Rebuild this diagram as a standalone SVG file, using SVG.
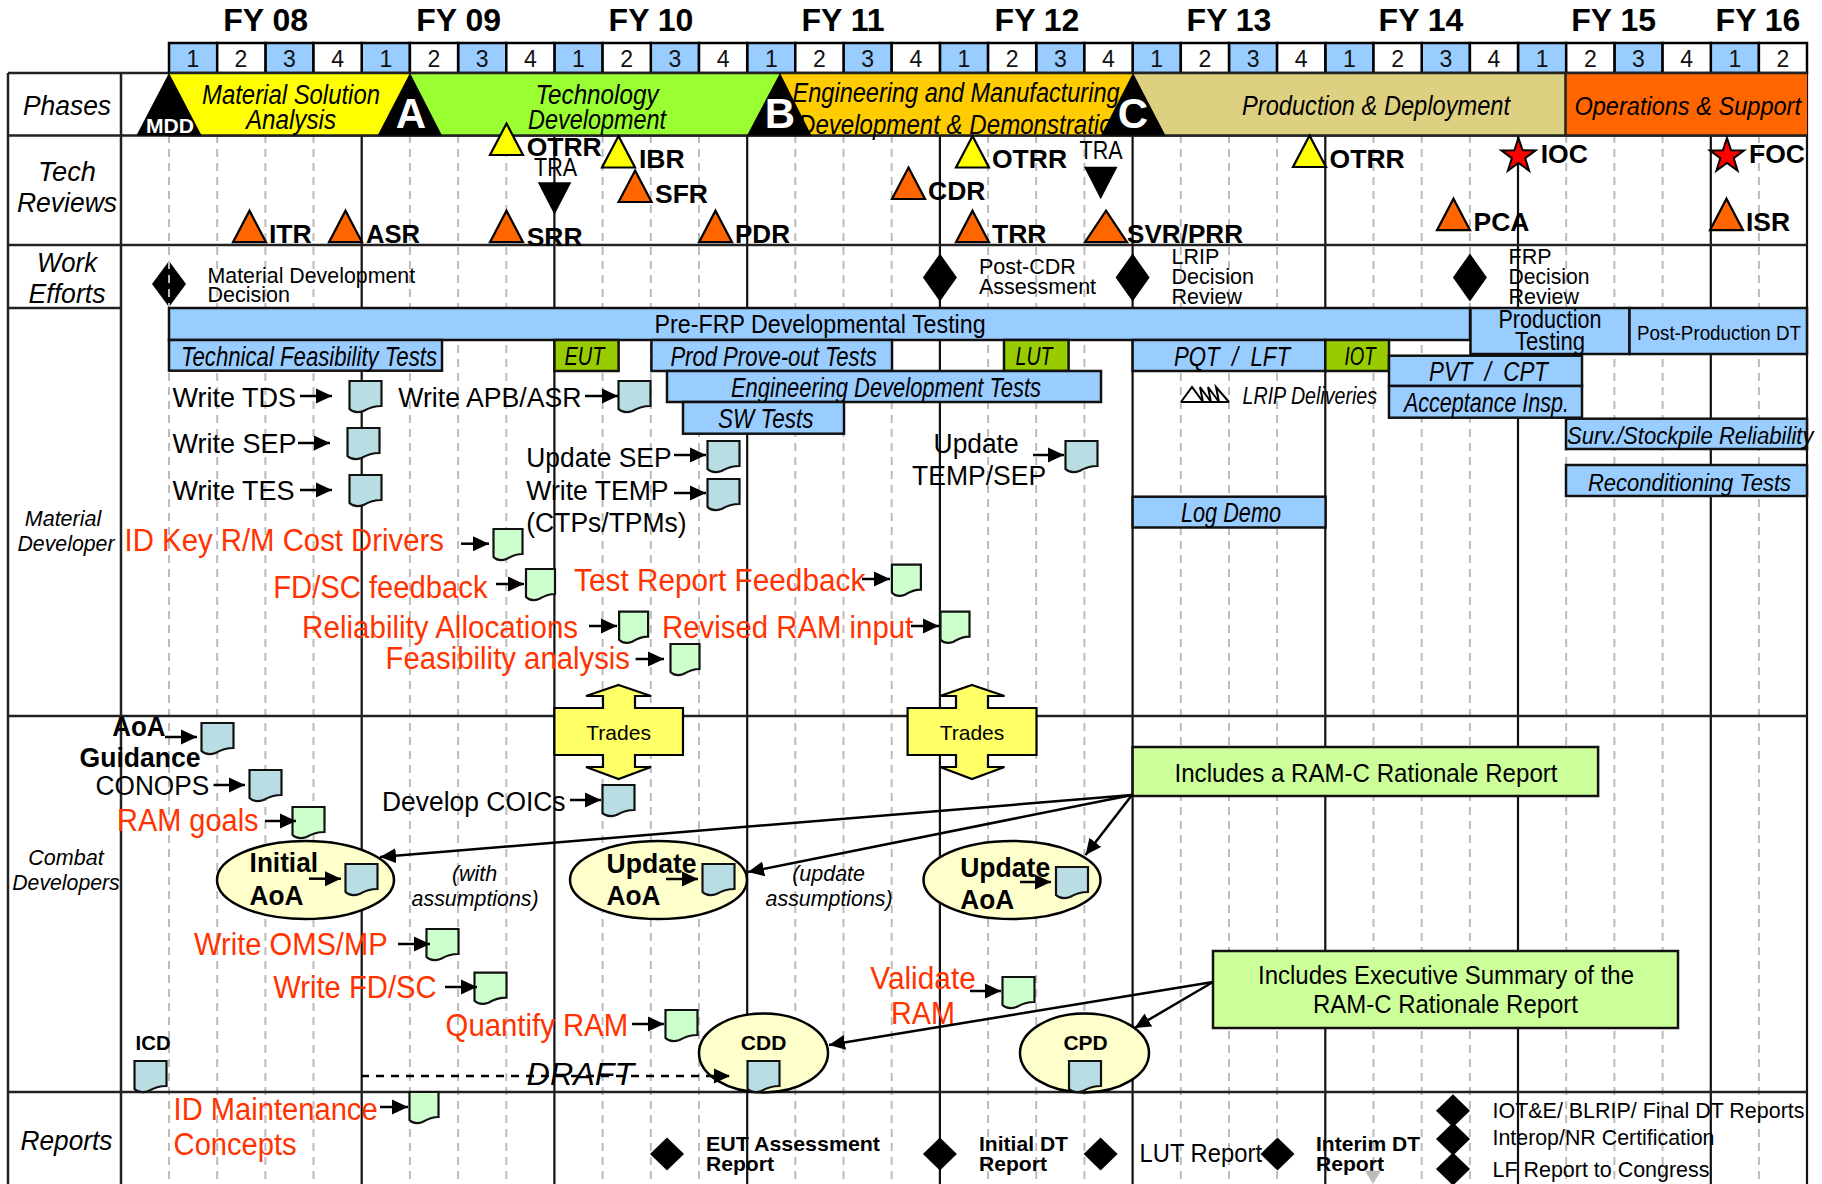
<svg xmlns="http://www.w3.org/2000/svg" width="1822" height="1184" viewBox="0 0 1822 1184">
<style>
text{font-family:"Liberation Sans",Arial,sans-serif;fill:#000}
.fy{font-size:32px;font-weight:bold;text-anchor:middle}
.q{font-size:23px;text-anchor:middle;fill:#111}
.cell{stroke:#000;stroke-width:2.5}
.row{stroke:#222;stroke-width:2.5;fill:none}
.sol{stroke:#111;stroke-width:2.2;fill:none}
.das{stroke:#bbb;stroke-width:2;stroke-dasharray:8 6;fill:none}
.lab{font-size:27px;font-style:italic;text-anchor:middle}
.lab2{font-size:21.5px;font-style:italic;text-anchor:middle}
.ph{font-size:27px;font-style:italic}
.rev{font-size:26.5px;font-weight:bold}
.tra{font-size:25px}
.or{fill:#FF6600;stroke:#000;stroke-width:2.2}
.ye{fill:#FFFF00;stroke:#000;stroke-width:2.2}
.dia{fill:#000}
.note{font-size:21.5px}
.bar{fill:#99CCFF;stroke:#111;stroke-width:2.5}
.gbar{fill:#99CC00;stroke:#111;stroke-width:2.5}
.bt{font-size:27px;font-style:italic}
.n{font-size:27px}
.red{font-size:31px;fill:#FF3300}
.b{font-size:27px;font-weight:bold}
.b2{font-size:21px;font-weight:bold}
.ell{fill:#FFFFCC;stroke:#000;stroke-width:2.5}
.tr{fill:#FFFF66;stroke:#000;stroke-width:2.2}
.gn{fill:#CCFF99;stroke:#111;stroke-width:2.5}
.arr{stroke:#000;stroke-width:2.5;fill:none;marker-end:url(#ah)}
.long{stroke:#000;stroke-width:2.5;fill:none;marker-end:url(#ah)}
.wh{fill:#fff;font-weight:bold}
</style>
<defs>
<marker id="ah" markerUnits="userSpaceOnUse" markerWidth="17" markerHeight="16" refX="16" refY="8" orient="auto"><path d="M0,0.5 L16,8 L0,15.5Z" fill="#000"/></marker>
<path id="db" d="M1,1 H33 V26 C26,26 20,28 15,31 C9,33 4,32 1,29 Z" fill="#B8DDE2" stroke="#111" stroke-width="2.2"/>
<path id="dg" d="M1,1 H30 V26 C24,26 19,28 14,31 C9,33 4,32 1,29 Z" fill="#CCFFCC" stroke="#111" stroke-width="2.2"/>
<path id="dh" d="M1,1 H33 V26 C26,26 20,28 15,31 C9,33 4,32 1,29 Z" fill="#CCFFCC" stroke="#111" stroke-width="2.2"/>
<polygon id="tri" points="16.5,0 33,31.5 0,31.5"/>
<polygon id="inv" points="0,0 33.5,0 16.7,32.5" fill="#000"/>
<polygon id="star" points="0,-18 4.1,-5.7 17.1,-5.6 6.7,2.2 10.6,14.6 0,7 -10.6,14.6 -6.7,2.2 -17.1,-5.6 -4.1,-5.7" fill="#FF0000" stroke="#000" stroke-width="2"/>
<polygon id="dm" points="0,-24 17,0 0,24 -17,0" fill="#000"/>
<polygon id="ds" points="0,-16.5 17,0 0,16.5 -17,0" fill="#000"/>
</defs>

<g id="grid">
<path class="das" d="M169,135V1184M217.2,135V1184M265.4,135V1184M313.5,135V1184M409.9,135V1184M458.1,135V1184M506.3,135V1184M602.6,135V1184M650.8,135V1184M699,135V1184M795.3,135V1184M843.5,135V1184M891.7,135V1184M988.1,135V1184M1036.2,135V1184M1084.4,135V1184M1180.8,135V1184M1229,135V1184M1277.1,135V1184M1373.5,135V1184M1421.7,135V1184M1469.9,135V1184M1566.2,135V1184M1614.4,135V1184M1662.6,135V1184M1758.9,135V1184"/>
<path class="sol" d="M361.7,135V1184M554.4,135V1184M747.2,135V1184M939.9,135V1184M1132.6,135V1184M1325.3,135V1184M1518,135V1184M1710.8,135V1184M1807,73V1184"/>
<path class="row" d="M8,73H169M8,135.5H1807M8,245H1807M8,308H121M8,716H1807M8,1092H1807M8,73V1184M121,73V1184"/>
</g>

<g id="years">
<text class="fy" x="265.7" y="30.7">FY 08</text><text class="fy" x="458.7" y="30.7">FY 09</text><text class="fy" x="651" y="30.7">FY 10</text><text class="fy" x="843" y="30.7">FY 11</text><text class="fy" x="1037" y="30.7">FY 12</text><text class="fy" x="1229" y="30.7">FY 13</text><text class="fy" x="1421" y="30.7">FY 14</text><text class="fy" x="1613.6" y="30.7">FY 15</text><text class="fy" x="1758" y="30.7">FY 16</text>
</g>
<g id="quarters">
<g class="cell" fill="#99CCFF">
<rect x="169" y="43" width="48.2" height="30"/><rect x="265.4" y="43" width="48.1" height="30"/><rect x="361.7" y="43" width="48.2" height="30"/><rect x="458.1" y="43" width="48.2" height="30"/><rect x="554.4" y="43" width="48.2" height="30"/><rect x="650.8" y="43" width="48.2" height="30"/><rect x="747.2" y="43" width="48.1" height="30"/><rect x="843.5" y="43" width="48.2" height="30"/><rect x="939.9" y="43" width="48.2" height="30"/><rect x="1036.2" y="43" width="48.2" height="30"/><rect x="1132.6" y="43" width="48.2" height="30"/><rect x="1229" y="43" width="48.1" height="30"/><rect x="1325.3" y="43" width="48.2" height="30"/><rect x="1421.7" y="43" width="48.2" height="30"/><rect x="1518" y="43" width="48.2" height="30"/><rect x="1614.4" y="43" width="48.2" height="30"/><rect x="1710.8" y="43" width="48.1" height="30"/>
</g>
<g class="cell" fill="#fff">
<rect x="217.2" y="43" width="48.2" height="30"/><rect x="313.5" y="43" width="48.2" height="30"/><rect x="409.9" y="43" width="48.2" height="30"/><rect x="506.3" y="43" width="48.1" height="30"/><rect x="602.6" y="43" width="48.2" height="30"/><rect x="699" y="43" width="48.2" height="30"/><rect x="795.3" y="43" width="48.2" height="30"/><rect x="891.7" y="43" width="48.2" height="30"/><rect x="988.1" y="43" width="48.1" height="30"/><rect x="1084.4" y="43" width="48.2" height="30"/><rect x="1180.8" y="43" width="48.2" height="30"/><rect x="1277.1" y="43" width="48.2" height="30"/><rect x="1373.5" y="43" width="48.2" height="30"/><rect x="1469.9" y="43" width="48.1" height="30"/><rect x="1566.2" y="43" width="48.2" height="30"/><rect x="1662.6" y="43" width="48.2" height="30"/><rect x="1758.9" y="43" width="48.1" height="30"/>
</g>
<g>
<text class="q" x="193" y="66.8">1</text><text class="q" x="241" y="66.8">2</text><text class="q" x="289.5" y="66.8">3</text><text class="q" x="337.6" y="66.8">4</text><text class="q" x="385.8" y="66.8">1</text><text class="q" x="434" y="66.8">2</text><text class="q" x="482.2" y="66.8">3</text><text class="q" x="530.4" y="66.8">4</text><text class="q" x="578.5" y="66.8">1</text><text class="q" x="626.7" y="66.8">2</text><text class="q" x="674.9" y="66.8">3</text><text class="q" x="723.1" y="66.8">4</text><text class="q" x="771.3" y="66.8">1</text><text class="q" x="819.4" y="66.8">2</text><text class="q" x="867.6" y="66.8">3</text><text class="q" x="915.8" y="66.8">4</text><text class="q" x="964" y="66.8">1</text><text class="q" x="1012.2" y="66.8">2</text><text class="q" x="1060.3" y="66.8">3</text><text class="q" x="1108.5" y="66.8">4</text><text class="q" x="1156.7" y="66.8">1</text><text class="q" x="1204.9" y="66.8">2</text><text class="q" x="1253.1" y="66.8">3</text><text class="q" x="1301.2" y="66.8">4</text><text class="q" x="1349.4" y="66.8">1</text><text class="q" x="1397.6" y="66.8">2</text><text class="q" x="1445.8" y="66.8">3</text><text class="q" x="1494" y="66.8">4</text><text class="q" x="1542.1" y="66.8">1</text><text class="q" x="1590.3" y="66.8">2</text><text class="q" x="1638.5" y="66.8">3</text><text class="q" x="1686.7" y="66.8">4</text><text class="q" x="1734.9" y="66.8">1</text><text class="q" x="1783" y="66.8">2</text>
</g>
</g>

<g id="row-labels">
<text class="lab" x="67" y="115" textLength="88" lengthAdjust="spacingAndGlyphs">Phases</text>
<text class="lab" x="67" y="181" textLength="58" lengthAdjust="spacingAndGlyphs">Tech</text><text class="lab" x="67" y="212" textLength="100" lengthAdjust="spacingAndGlyphs">Reviews</text>
<text class="lab" x="67" y="272" textLength="60" lengthAdjust="spacingAndGlyphs">Work</text><text class="lab" x="67" y="303" textLength="77" lengthAdjust="spacingAndGlyphs">Efforts</text>
<text class="lab2" x="63" y="526">Material</text><text class="lab2" x="66" y="551" textLength="97" lengthAdjust="spacingAndGlyphs">Developer</text>
<text class="lab2" x="66" y="865">Combat</text><text class="lab2" x="66" y="890" textLength="107.5" lengthAdjust="spacingAndGlyphs">Developers</text>
<text class="lab" x="66.5" y="1150" textLength="92" lengthAdjust="spacingAndGlyphs">Reports</text>
</g>

<g id="phases">
<rect x="169" y="73" width="241" height="62.5" fill="#FFFF00"/>
<rect x="410" y="73" width="370" height="62.5" fill="#99FF33"/>
<rect x="780" y="73" width="353" height="62.5" fill="#FFCC00"/>
<rect x="1133" y="73" width="432" height="62.5" fill="#DDD080"/>
<rect x="1565" y="73" width="242" height="62.5" fill="#FF6600"/>
<path class="row" d="M169,73H1807M169,135.5H1807M1565.5,73V135.5"/>
<text class="ph" x="291" y="104" text-anchor="middle" textLength="178" lengthAdjust="spacingAndGlyphs">Material Solution</text>
<text class="ph" x="291" y="128.7" text-anchor="middle" textLength="90" lengthAdjust="spacingAndGlyphs">Analysis</text>
<text class="ph" x="597" y="104" text-anchor="middle" textLength="123" lengthAdjust="spacingAndGlyphs">Technology</text>
<text class="ph" x="597" y="128.7" text-anchor="middle" textLength="138" lengthAdjust="spacingAndGlyphs">Development</text>
<text class="ph" x="792.6" y="101.7" textLength="327" lengthAdjust="spacingAndGlyphs">Engineering and Manufacturing</text>
<text class="ph" x="798" y="134" textLength="328" lengthAdjust="spacingAndGlyphs">Development &amp; Demonstration</text>
<text class="ph" x="1376" y="115" text-anchor="middle" textLength="268" lengthAdjust="spacingAndGlyphs">Production &amp; Deployment</text>
<text class="ph" x="1574.4" y="115" textLength="226.6" lengthAdjust="spacingAndGlyphs" style="font-size:25px">Operations &amp; Support</text>
<polygon points="169,73 201.6,135.5 136.4,135.5" fill="#000"/>
<polygon points="410,73 442,135.5 377.6,135.5" fill="#000"/>
<polygon points="780,73 811.5,135.5 747,135.5" fill="#000"/>
<polygon points="1133,73 1165.5,135.5 1101,135.5" fill="#000"/>
<text class="wh" x="170" y="133" font-size="20" text-anchor="middle" textLength="48" lengthAdjust="spacingAndGlyphs">MDD</text>
<text class="wh" x="411" y="128" font-size="42" text-anchor="middle">A</text>
<text class="wh" x="780" y="128" font-size="42" text-anchor="middle">B</text>
<text class="wh" x="1133" y="128" font-size="42" text-anchor="middle">C</text>
</g>

<g id="tech-reviews">
<g id="itr"><use href="#tri" class="or" x="233" y="210.7"/><text class="rev" x="269" y="242.5">ITR</text></g>
<g id="asr"><use href="#tri" class="or" x="329" y="210.7"/><text class="rev" x="366" y="242.5" textLength="54" lengthAdjust="spacingAndGlyphs">ASR</text></g>
<g id="srr"><use href="#tri" class="or" x="490" y="210.7"/><text class="rev" x="526.7" y="246">SRR</text></g>
<g id="otrr1"><use href="#tri" class="ye" x="490" y="123.5"/><text class="rev" x="526.7" y="155.5">OTRR</text></g>
<g id="tra1"><text class="tra" x="534" y="175.7" textLength="43" lengthAdjust="spacingAndGlyphs">TRA</text><use href="#inv" x="537.8" y="182.3"/></g>
<g id="ibr"><use href="#tri" class="ye" x="602" y="136"/><text class="rev" x="639" y="167.5">IBR</text></g>
<g id="sfr"><use href="#tri" class="or" x="618.6" y="170.5"/><text class="rev" x="655" y="202.5">SFR</text></g>
<g id="pdr"><use href="#tri" class="or" x="699" y="210.7"/><text class="rev" x="735" y="242.5" textLength="55" lengthAdjust="spacingAndGlyphs">PDR</text></g>
<g id="cdr"><use href="#tri" class="or" x="892" y="167.5"/><text class="rev" x="928" y="199.5">CDR</text></g>
<g id="otrr2"><use href="#tri" class="ye" x="956" y="136"/><text class="rev" x="992" y="167.5">OTRR</text></g>
<g id="trr"><use href="#tri" class="or" x="956" y="210.7"/><text class="rev" x="992" y="242.5">TRR</text></g>
<g id="tra2"><text class="tra" x="1079.6" y="159" textLength="43" lengthAdjust="spacingAndGlyphs">TRA</text><use href="#inv" x="1084" y="166.7"/></g>
<g id="svr"><polygon class="or" points="1106,210.7 1127,242.2 1085,242.2"/><text class="rev" x="1127" y="242.5" textLength="116" lengthAdjust="spacingAndGlyphs">SVR/PRR</text></g>
<g id="otrr3"><use href="#tri" class="ye" x="1293" y="135.5"/><text class="rev" x="1329.6" y="167.5">OTRR</text></g>
<g id="ioc"><use href="#star" x="1518.5" y="156"/><text class="rev" x="1540.7" y="162.8">IOC</text></g>
<g id="foc"><use href="#star" x="1727" y="156"/><text class="rev" x="1749" y="162.8">FOC</text></g>
<g id="pca"><use href="#tri" class="or" x="1437" y="198.7"/><text class="rev" x="1473.5" y="230.5">PCA</text></g>
<g id="isr"><use href="#tri" class="or" x="1710" y="198.7"/><text class="rev" x="1746" y="230.5" textLength="44" lengthAdjust="spacingAndGlyphs">ISR</text></g>
</g>

<g id="work-efforts">
<g id="mdd-d"><polygon class="dia" points="169,261 186,284 169,307 152,284"/><path class="das" d="M169,261V307"/><text class="note" x="207.5" y="282.7" textLength="207.6" lengthAdjust="spacingAndGlyphs">Material Development</text><text class="note" x="207.5" y="301.7">Decision</text></g>
<g id="postcdr"><use href="#dm" x="939.9" y="277.5"/><text class="note" x="979" y="274">Post-CDR</text><text class="note" x="979" y="294.3">Assessment</text></g>
<g id="lrip"><use href="#dm" x="1132.6" y="277.5"/><text class="note" x="1171.5" y="264">LRIP</text><text class="note" x="1171.5" y="284">Decision</text><text class="note" x="1171.5" y="304">Review</text></g>
<g id="frp"><use href="#dm" x="1469.9" y="277.5"/><text class="note" x="1508.5" y="264">FRP</text><text class="note" x="1508.5" y="284" textLength="81" lengthAdjust="spacingAndGlyphs">Decision</text><text class="note" x="1508.5" y="304">Review</text></g>
</g>

<g id="test-bars">
<g id="prefrp"><rect class="bar" x="169" y="308" width="1301" height="32"/><text x="654.6" y="333" font-size="25" textLength="331" lengthAdjust="spacingAndGlyphs">Pre-FRP Developmental Testing</text></g>
<g id="prodtest"><rect class="bar" x="1470.5" y="308" width="159" height="46"/><text x="1550" y="327.7" font-size="25" text-anchor="middle" textLength="103" lengthAdjust="spacingAndGlyphs">Production</text><text x="1550" y="350" font-size="25" text-anchor="middle" textLength="70" lengthAdjust="spacingAndGlyphs">Testing</text></g>
<g id="postprod"><rect class="bar" x="1629.5" y="308" width="177.5" height="46"/><text x="1637" y="340" font-size="21" textLength="164" lengthAdjust="spacingAndGlyphs">Post-Production DT</text></g>
<g id="tft"><rect class="bar" x="169" y="340" width="273" height="30.7"/><text class="bt" x="181" y="366" textLength="256" lengthAdjust="spacingAndGlyphs">Technical Feasibility Tests</text></g>
<g id="eut"><rect class="gbar" x="554.4" y="340" width="64.2" height="31"/><text class="bt" x="584.4" y="365" text-anchor="middle" textLength="40" lengthAdjust="spacingAndGlyphs" style="font-size:25px">EUT</text></g>
<g id="ppo"><rect class="bar" x="651.4" y="340" width="240.6" height="31"/><text class="bt" x="670.4" y="366" textLength="206.4" lengthAdjust="spacingAndGlyphs">Prod Prove-out Tests</text></g>
<g id="lut"><rect class="gbar" x="1004" y="340" width="64.6" height="31"/><text class="bt" x="1034" y="365" text-anchor="middle" textLength="37" lengthAdjust="spacingAndGlyphs" style="font-size:25px">LUT</text></g>
<g id="pqt"><rect class="bar" x="1132.6" y="340" width="192.7" height="31"/><text class="bt" x="1174" y="366" textLength="116" lengthAdjust="spacingAndGlyphs" xml:space="preserve">PQT  /  LFT</text></g>
<g id="iot"><rect class="gbar" x="1325.3" y="340" width="63.7" height="31"/><text class="bt" x="1360" y="365" text-anchor="middle" textLength="31" lengthAdjust="spacingAndGlyphs" style="font-size:25px">IOT</text></g>
<g id="edt"><rect class="bar" x="667" y="371" width="434" height="31"/><text class="bt" x="731" y="396.5" textLength="310" lengthAdjust="spacingAndGlyphs">Engineering Development Tests</text></g>
<g id="sw"><rect class="bar" x="683" y="402" width="161" height="31.7"/><text class="bt" x="718" y="428" textLength="95.5" lengthAdjust="spacingAndGlyphs">SW Tests</text></g>
<g id="pvt"><rect class="bar" x="1389" y="355.7" width="193" height="30.3"/><text class="bt" x="1429" y="380.7" textLength="119" lengthAdjust="spacingAndGlyphs" xml:space="preserve">PVT  /  CPT</text></g>
<g id="acc"><rect class="bar" x="1389" y="386" width="193" height="31.7"/><text class="bt" x="1404" y="411.7" textLength="165" lengthAdjust="spacingAndGlyphs">Acceptance Insp.</text></g>
<g id="surv"><rect class="bar" x="1566" y="418.7" width="241" height="30.3"/><text class="bt" x="1567" y="443.5" textLength="246.5" lengthAdjust="spacingAndGlyphs" style="font-size:23.5px">Surv./Stockpile Reliability</text></g>
<g id="recon"><rect class="bar" x="1566" y="465" width="241" height="31"/><text class="bt" x="1588" y="490.5" textLength="203" lengthAdjust="spacingAndGlyphs" style="font-size:24px">Reconditioning Tests</text></g>
<g id="logdemo"><rect class="bar" x="1132.6" y="496.7" width="193" height="30.8"/><text class="bt" x="1181" y="522" textLength="100" lengthAdjust="spacingAndGlyphs">Log Demo</text></g>
<g id="lripdel"><path d="M1181,402 L1192,387 L1203,402 L1200,387 L1211,402 L1208,387 L1219,402 L1216,387 L1229,402 M1181,402H1229" fill="none" stroke="#000" stroke-width="2"/><text class="bt" x="1242.6" y="404" textLength="134.4" lengthAdjust="spacingAndGlyphs" style="font-size:23px">LRIP Deliveries</text></g>
</g>

<g id="trades1"><polygon class="tr" points="618.6,685 651,696 635,696 635,708 683,708 683,755 635,755 635,767 651,767 618.6,779 586,767 603,767 603,755 554.4,755 554.4,708 603,708 603,696 586,696"/><text x="618.6" y="740" font-size="21" text-anchor="middle">Trades</text></g>
<g id="trades2"><polygon class="tr" points="972,685 1004.5,696 988,696 988,708 1036.5,708 1036.5,755 988,755 988,767 1004.5,767 972,779 940,767 956,767 956,755 907.6,755 907.6,708 956,708 956,696 940,696"/><text x="972" y="740" font-size="21" text-anchor="middle">Trades</text></g>

<g id="ellipses">
<ellipse id="e-initial" class="ell" cx="305.5" cy="880" rx="88.5" ry="39"/>
<ellipse id="e-update1" class="ell" cx="658.5" cy="880" rx="88.5" ry="39"/>
<ellipse id="e-update2" class="ell" cx="1012" cy="880" rx="88.5" ry="39"/>
<ellipse id="e-cdd" class="ell" cx="763.5" cy="1053" rx="64.5" ry="39.5"/>
<ellipse id="e-cpd" class="ell" cx="1084.5" cy="1053" rx="64.5" ry="39.5"/>
</g>

<g id="notes">
<g id="note1"><rect class="gn" x="1132.6" y="747" width="465.5" height="49"/><text x="1366" y="782" font-size="25" text-anchor="middle" textLength="383" lengthAdjust="spacingAndGlyphs">Includes a RAM-C Rationale Report</text></g>
<g id="note2"><rect class="gn" x="1213" y="951" width="465" height="77"/><text x="1446" y="984" font-size="25" text-anchor="middle" textLength="376" lengthAdjust="spacingAndGlyphs">Includes Executive Summary of the</text><text x="1445.5" y="1013" font-size="25" text-anchor="middle" textLength="265" lengthAdjust="spacingAndGlyphs">RAM-C Rationale Report</text></g>
</g>

<g id="labels" transform="translate(-0.4,0.8)">
<text class="n" x="173" y="406">Write TDS</text>
<text class="n" x="173" y="452.7">Write SEP</text>
<text class="n" x="173" y="499">Write TES</text>
<text class="n" x="398.6" y="406" textLength="183.4" lengthAdjust="spacingAndGlyphs">Write APB/ASR</text>
<text class="n" x="526.7" y="466" textLength="145.3" lengthAdjust="spacingAndGlyphs">Update SEP</text>
<text class="n" x="526.7" y="499.3" textLength="142.3" lengthAdjust="spacingAndGlyphs">Write TEMP</text>
<text class="n" x="526.7" y="531.7" textLength="160.3" lengthAdjust="spacingAndGlyphs">(CTPs/TPMs)</text>
<text class="n" x="976.5" y="452.7" text-anchor="middle" textLength="85" lengthAdjust="spacingAndGlyphs">Update</text>
<text class="n" x="979.5" y="484.7" text-anchor="middle" textLength="134" lengthAdjust="spacingAndGlyphs">TEMP/SEP</text>
<text class="red" x="125" y="550" textLength="319.4" lengthAdjust="spacingAndGlyphs">ID Key R/M Cost Drivers</text>
<text class="red" x="273.6" y="597" textLength="214.4" lengthAdjust="spacingAndGlyphs">FD/SC feedback</text>
<text class="red" x="302.5" y="637.7" textLength="276" lengthAdjust="spacingAndGlyphs">Reliability Allocations</text>
<text class="red" x="386" y="668" textLength="244.4" lengthAdjust="spacingAndGlyphs">Feasibility analysis</text>
<text class="red" x="574.5" y="590" textLength="291.2" lengthAdjust="spacingAndGlyphs">Test Report Feedback</text>
<text class="red" x="662.5" y="637.3" textLength="251.1" lengthAdjust="spacingAndGlyphs">Revised RAM input</text>
<text class="b" x="112.7" y="735.7" textLength="53.3" lengthAdjust="spacingAndGlyphs">AoA</text>
<text class="b" x="80" y="766" textLength="121" lengthAdjust="spacingAndGlyphs">Guidance</text>
<text class="n" x="96" y="794.7" textLength="113.6" lengthAdjust="spacingAndGlyphs">CONOPS</text>
<text class="red" x="117.4" y="830.7" textLength="141.6" lengthAdjust="spacingAndGlyphs">RAM goals</text>
<text class="n" x="382.4" y="810" textLength="183.6" lengthAdjust="spacingAndGlyphs">Develop COICs</text>
<text class="b" x="250" y="871.7" textLength="68.4" lengthAdjust="spacingAndGlyphs">Initial</text><text class="b" x="250" y="904.7" textLength="54" lengthAdjust="spacingAndGlyphs">AoA</text>
<text class="b" x="607" y="872" textLength="90" lengthAdjust="spacingAndGlyphs">Update</text><text class="b" x="607" y="904.7" textLength="54" lengthAdjust="spacingAndGlyphs">AoA</text>
<text class="b" x="960.6" y="876" textLength="90" lengthAdjust="spacingAndGlyphs">Update</text><text class="b" x="960.6" y="908" textLength="54" lengthAdjust="spacingAndGlyphs">AoA</text>
<text class="lab2" x="475" y="880">(with</text><text class="lab2" x="475.5" y="905.7" textLength="127" lengthAdjust="spacingAndGlyphs">assumptions)</text>
<text class="lab2" x="829" y="880">(update</text><text class="lab2" x="829.5" y="905.7" textLength="127" lengthAdjust="spacingAndGlyphs">assumptions)</text>
<text class="red" x="194.5" y="954" textLength="193.5" lengthAdjust="spacingAndGlyphs">Write OMS/MP</text>
<text class="red" x="273.6" y="997" textLength="163.4" lengthAdjust="spacingAndGlyphs">Write FD/SC</text>
<text class="red" x="446" y="1035.7" textLength="182.5" lengthAdjust="spacingAndGlyphs">Quantify RAM</text>
<text class="red" x="923.4" y="988" text-anchor="middle" textLength="105.6" lengthAdjust="spacingAndGlyphs">Validate</text><text class="red" x="923.4" y="1023" text-anchor="middle" textLength="64" lengthAdjust="spacingAndGlyphs">RAM</text>
<text x="136" y="1049" font-size="21" font-weight="bold" textLength="35" lengthAdjust="spacingAndGlyphs">ICD</text>
<text x="527" y="1084" font-size="32" font-style="italic" textLength="107.6" lengthAdjust="spacingAndGlyphs">DRAFT</text>
<text x="764" y="1049" font-size="21" font-weight="bold" text-anchor="middle">CDD</text>
<text x="1086" y="1049" font-size="21" font-weight="bold" text-anchor="middle">CPD</text>
<text class="red" x="174" y="1119" textLength="204" lengthAdjust="spacingAndGlyphs">ID Maintenance</text><text class="red" x="174" y="1154.7" textLength="123" lengthAdjust="spacingAndGlyphs">Concepts</text>
</g>

<g id="documents" transform="translate(-0.5,0)">
<use id="d-tds" href="#db" x="349" y="380"/><use id="d-sep" href="#db" x="347" y="427"/><use id="d-tes" href="#db" x="349" y="474"/><use id="d-apb" href="#db" x="618" y="380"/><use id="d-usep" href="#db" x="707" y="440"/><use id="d-temp" href="#db" x="707" y="478"/><use id="d-utemp" href="#db" x="1065" y="440"/><use id="d-aoa" href="#db" x="201" y="722"/><use id="d-conops" href="#db" x="249" y="769"/><use id="d-coic" href="#db" x="602" y="784"/><use id="d-iaoa" href="#db" x="345" y="863"/><use id="d-uaoa1" href="#db" x="702" y="863"/><use id="d-uaoa2" href="#db" x="1055.5" y="866"/><use id="d-icd" href="#db" x="134" y="1060"/><use id="d-cdd" href="#db" x="747" y="1060"/><use id="d-cpd" href="#db" x="1068.5" y="1060"/>
<use id="d-idkey" href="#dg" x="493" y="528"/><use id="d-fdsc" href="#dg" x="525.5" y="568"/><use id="d-rel" href="#dg" x="618.6" y="610.7"/><use id="d-test" href="#dg" x="891.4" y="563.7"/><use id="d-rev" href="#dg" x="940" y="610.7"/><use id="d-feas" href="#dg" x="670" y="643"/><use id="d-ram" href="#dh" x="292" y="806"/><use id="d-oms" href="#dh" x="426" y="928"/><use id="d-wfd" href="#dh" x="474" y="971.7"/><use id="d-quant" href="#dh" x="665" y="1009"/><use id="d-val" href="#dh" x="1002" y="976"/><use id="d-maint" href="#dg" x="409" y="1091"/>
</g>

<g id="connectors">
<path class="arr" d="M300,396H332"/><path class="arr" d="M298,443H330"/><path class="arr" d="M300,490H332"/><path class="arr" d="M585,396H618"/><path class="arr" d="M674,455H706"/><path class="arr" d="M674,493H706"/><path class="arr" d="M1033,455H1064"/><path class="arr" d="M461,543.7H489"/><path class="arr" d="M496,584H524"/><path class="arr" d="M589,626H617"/><path class="arr" d="M862,579H890"/><path class="arr" d="M911,626H939"/><path class="arr" d="M635.6,659H664"/><path class="arr" d="M165,737H197"/><path class="arr" d="M213.5,785H245"/><path class="arr" d="M265,821H296"/><path class="arr" d="M570,800H601"/><path class="arr" d="M309,878.7H341"/><path class="arr" d="M666,879H698"/><path class="arr" d="M1020,882H1051"/><path class="arr" d="M398,944H430"/><path class="arr" d="M445,987H477"/><path class="arr" d="M632,1024H664"/><path class="arr" d="M970,991H1001"/><path class="arr" d="M380,1107H408"/>
<path class="long" d="M1132,795L380,857"/><path class="long" d="M1132,795L748,872"/><path class="long" d="M1132,795L1085.6,855"/><path class="long" d="M1213,982L829,1045"/><path class="long" d="M1213,982L1134.6,1028"/>
<path d="M361,1076H730" stroke="#000" stroke-width="2.5" stroke-dasharray="8 7" fill="none" marker-end="url(#ah)"/>
</g>

<g id="reports">
<g id="r-eut"><use href="#ds" x="667" y="1154"/><text class="b2" x="706" y="1150.7" textLength="174" lengthAdjust="spacingAndGlyphs">EUT Assessment</text><text class="b2" x="706" y="1170.7" textLength="68" lengthAdjust="spacingAndGlyphs">Report</text></g>
<g id="r-init"><use href="#ds" x="939.9" y="1154"/><text class="b2" x="979" y="1150.7" textLength="89" lengthAdjust="spacingAndGlyphs">Initial DT</text><text class="b2" x="979" y="1170.7" textLength="68" lengthAdjust="spacingAndGlyphs">Report</text></g>
<g id="r-lut"><use href="#ds" x="1100.6" y="1154"/><text x="1139.5" y="1162" font-size="25" textLength="122.5" lengthAdjust="spacingAndGlyphs">LUT Report</text></g>
<g id="r-interim"><use href="#ds" x="1277.5" y="1154"/><text class="b2" x="1316" y="1150.7" textLength="104" lengthAdjust="spacingAndGlyphs">Interim DT</text><text class="b2" x="1316" y="1170.7" textLength="68" lengthAdjust="spacingAndGlyphs">Report</text><polygon points="1365,1170.7 1381,1170.7 1373,1184" fill="#bbb"/></g>
<g id="r-iot"><use href="#ds" x="1453" y="1110.7"/><text class="note" x="1492.5" y="1118" textLength="312" lengthAdjust="spacingAndGlyphs">IOT&amp;E/ BLRIP/ Final DT Reports</text></g>
<g id="r-interop"><use href="#ds" x="1453" y="1139"/><text class="note" x="1492.5" y="1144.7" textLength="222" lengthAdjust="spacingAndGlyphs">Interop/NR Certification</text></g>
<g id="r-lf"><use href="#ds" x="1453" y="1169"/><text class="note" x="1492.5" y="1176.7" textLength="217" lengthAdjust="spacingAndGlyphs">LF Report to Congress</text></g>
</g>
</svg>
